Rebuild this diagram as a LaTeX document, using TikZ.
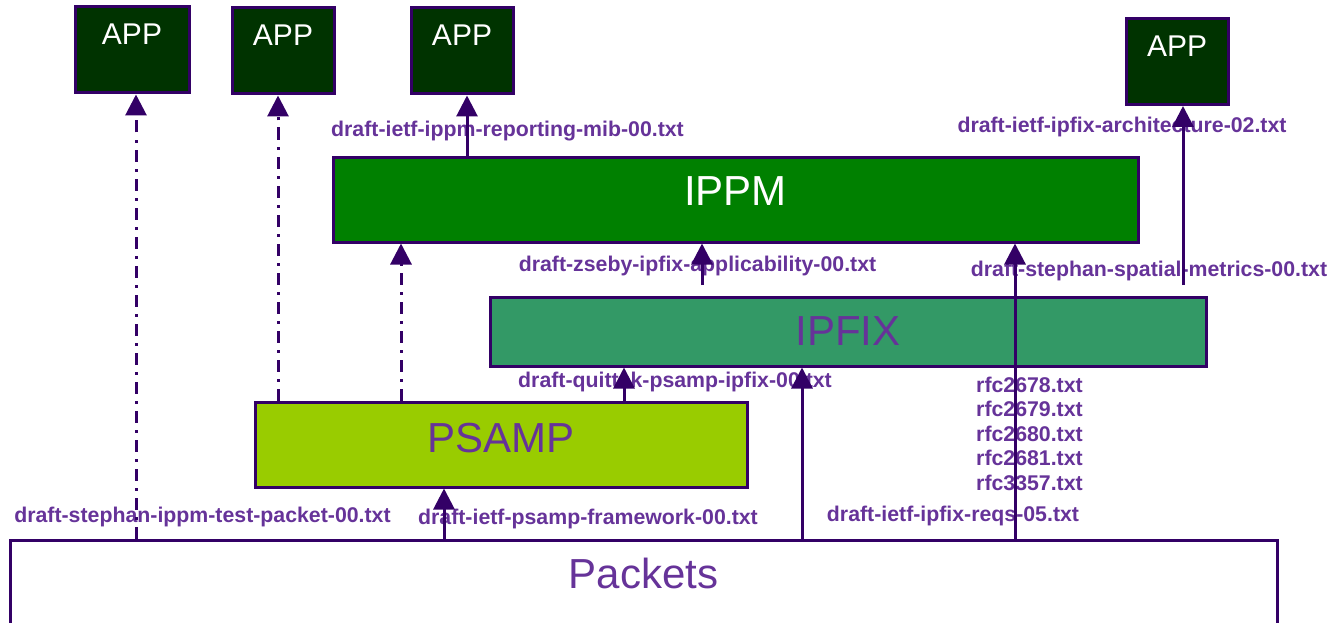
\documentclass[tikz,border=0pt]{standalone}
\usepackage{fontspec}
\setmainfont{Liberation Sans}
\usepackage{tikz}
\usetikzlibrary{arrows.meta}

\definecolor{edge}{HTML}{330066}
\definecolor{doctext}{HTML}{663399}
\definecolor{appgreen}{HTML}{003300}
\definecolor{ippmgreen}{HTML}{008000}
\definecolor{ipfixgreen}{HTML}{339966}
\definecolor{psampgreen}{HTML}{99CC00}

\begin{document}
\begin{tikzpicture}[x=1pt,y=-1pt,>={Triangle[width=21pt,length=21pt]},line width=3pt]
                  \tikzstyle{box}=[draw=edge,inner sep=0pt,text height=30pt,font=\fontsize{42}{48}\selectfont]
                  \tikzstyle{app}=[box,fill=appgreen,text=white,minimum width=102pt,minimum height=86pt,text height=22pt,text depth=32pt,font=\fontsize{30}{36}\selectfont]
                  \tikzstyle{doc}=[text=doctext,anchor=base,font=\bfseries\fontsize{21.3}{25}\selectfont]
                  \tikzstyle{link}=[->,draw=edge]
                  \tikzstyle{weak}=[link,dash pattern=on 12pt off 7pt on 3pt off 7pt]

                  \useasboundingbox (0,0) rectangle (1343,623);
                  \clip (0,0) rectangle (1343,623);

                  % boxes
                  \node[app,minimum width=114pt] (app1) at (132,50)   {APP};
                  \node[app]                     (app2) at (283,51)   {APP};
                  \node[app]                     (app3) at (462,51)   {APP};
                  \node[app]                     (app4) at (1177,61.5) {APP};
                  \node[box,fill=ippmgreen,text=white,minimum width=805pt,minimum height=85pt,text depth=19pt]  (ippm)    at (735.5,199.5) {IPPM};
                  \node[box,fill=ipfixgreen,text=doctext,minimum width=716pt,minimum height=69pt,text depth=3pt] (ipfix)  at (848,331.5)   {IPFIX};
                  \node[box,fill=psampgreen,text=doctext,minimum width=492pt,minimum height=85pt,text depth=15pt] (psamp) at (501,444.5)   {PSAMP};
                  \node[box,fill=white,text=doctext,minimum width=1267pt,minimum height=170pt,text depth=104pt] (packets) at (643.5,625) {Packets};

                  % documents
                  \node[doc] (mib)       at (507.5,136) {draft-ietf-ippm-reporting-mib-00.txt};
                  \node[doc] (arch)      at (1122,132)  {draft-ietf-ipfix-architecture-02.txt};
                  \node[doc] (zseby)     at (697.5,271) {draft-zseby-ipfix-applicability-00.txt};
                  \node[doc] (spatial)   at (1149,276)  {draft-stephan-spatial-metrics-00.txt};
                  \node[doc] (quittek)   at (675,387)   {draft-quittek-psamp-ipfix-00.txt};
                  \foreach \r [count=\i from 0] in {2678,2679,2680,2681,3357}
                    \node[doc] (rfc\r) at (1029.5,{392+24.5*\i}) {rfc\r.txt};
                  \node[doc] (reqs)      at (953,521)   {draft-ietf-ipfix-reqs-05.txt};
                  \node[doc] (testpkt)   at (202.5,522) {draft-stephan-ippm-test-packet-00.txt};
                  \node[doc] (framework) at (588,524)   {draft-ietf-psamp-framework-00.txt};

                  \coordinate (zs) at (702,285);
                  \coordinate (ar) at (1183,285);

                  % links
                  \draw[weak] ([xshift=4pt]app1.south |- packets.north) -- ([xshift=4pt]app1.south);
                  \draw[weak] ([xshift=-5pt]app2.south |- psamp.north) -- ([xshift=-5pt]app2.south);
                  \draw[weak] ([xshift=-100pt]psamp.north) -- ([xshift=-100pt]psamp.north |- ippm.south);
                  \draw[link] ([xshift=5pt]app3.south |- ippm.north) -- ([xshift=5pt]app3.south);
                  \draw[link] (zs) -- (zs |- ippm.south);
                  \draw[link] (ar) -- (ar |- app4.south);
                  \draw[link] ([xshift=123pt]psamp.north) -- ([xshift=123pt]psamp.north |- ipfix.south);
                  \draw[link] ([xshift=-57pt]psamp.south |- packets.north) -- ([xshift=-57pt]psamp.south);
                  \draw[link] ([xshift=-46pt]ipfix.south |- packets.north) -- ([xshift=-46pt]ipfix.south);
                  \draw[link] ([xshift=279.5pt]ippm.south |- packets.north) -- ([xshift=279.5pt]ippm.south);
                \end{tikzpicture}
\end{document}
